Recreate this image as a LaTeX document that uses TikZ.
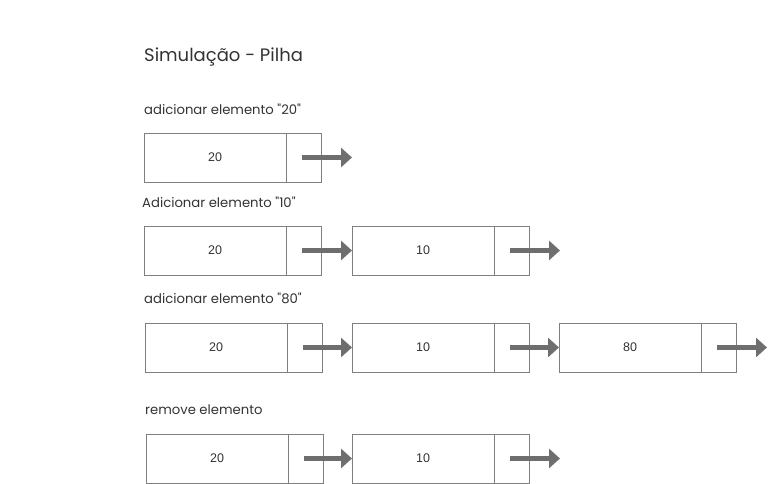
\documentclass[tikz,border=0pt]{standalone}
\usepackage{fontspec}
\newfontfamily\rotulofont{Poppins}
\newfontfamily\numfont{Liberation Sans}
\usetikzlibrary{positioning}
\usetikzlibrary{arrows.meta}

\definecolor{boxgray}{HTML}{7F7F7F}
\definecolor{arrowgray}{HTML}{6E6E6E}
\definecolor{textgray}{HTML}{333333}

\tikzset{
  valor/.style={draw=boxgray,line width=0.9pt,minimum width=142pt,minimum height=49pt,
    inner sep=0pt,outer sep=0pt,font=\numfont\fontsize{12.5pt}{14pt}\selectfont,text=textgray},
  ponteiro/.style={draw=boxgray,line width=0.9pt,minimum width=35pt,minimum height=49pt,
    inner sep=0pt,outer sep=0pt,right=0pt of #1},
  seta/.style={arrowgray,line width=5pt,-{Triangle[length=11pt,width=19pt]}},
  rotulo/.style={anchor=base west,inner sep=0pt,text=textgray,font=\rotulofont\fontsize{13.2pt}{15pt}\selectfont},
  titulo/.style={anchor=base west,inner sep=0pt,text=textgray,font=\rotulofont\fontsize{18pt}{21pt}\selectfont}
}

\begin{document}
\begin{tikzpicture}[x=1pt,y=-1pt,node distance=30pt]
  \useasboundingbox (0,0) rectangle (781,484);

  \node[titulo] (titulo) at (144,62) {Simulação - Pilha};

  % adicionar 20
  \node[rotulo] (r1) at (144,114) {adicionar elemento "20"};
  \node[valor] (a1) at (215,157.5) {20};
  \node[ponteiro=a1] (pa1) {};
  \coordinate[right=31pt of pa1] (fa1);
  \draw[seta] ([xshift=-2pt]pa1.center) -- (fa1);

  % adicionar 10
  \node[rotulo] (r2) at (142,207) {Adicionar elemento "10"};
  \node[valor] (a2) at (215,250.5) {20};
  \node[ponteiro=a2] (pa2) {};
  \node[valor,right=31pt of pa2] (b2) {10};
  \node[ponteiro=b2] (pb2) {};
  \coordinate[right=31pt of pb2] (fb2);
  \draw[seta] ([xshift=-2pt]pa2.center) -- (b2.west);
  \draw[seta] ([xshift=-2pt]pb2.center) -- (fb2);

  % adicionar 80
  \node[rotulo] (r3) at (144,303) {adicionar elemento "80"};
  \node[valor] (a3) at (216,347.5) {20};
  \node[ponteiro=a3] (pa3) {};
  \node[valor,right=30pt of pa3] (b3) {10};
  \node[ponteiro=b3] (pb3) {};
  \node[valor,right=30pt of pb3] (c3) {80};
  \node[ponteiro=c3] (pc3) {};
  \coordinate[right=31pt of pc3] (fc3);
  \draw[seta] ([xshift=-2pt]pa3.center) -- (b3.west);
  \draw[seta] ([xshift=-2pt]pb3.center) -- (c3.west);
  \draw[seta] ([xshift=-2pt]pc3.center) -- (fc3);

  % remove
  \node[rotulo] (r4) at (145,414) {remove elemento};
  \node[valor] (a4) at (217,458.5) {20};
  \node[ponteiro=a4] (pa4) {};
  \node[valor,right=29pt of pa4] (b4) {10};
  \node[ponteiro=b4] (pb4) {};
  \coordinate[right=31pt of pb4] (fb4);
  \draw[seta] ([xshift=-2pt]pa4.center) -- (b4.west);
  \draw[seta] ([xshift=-2pt]pb4.center) -- (fb4);

\end{tikzpicture}
\end{document}
